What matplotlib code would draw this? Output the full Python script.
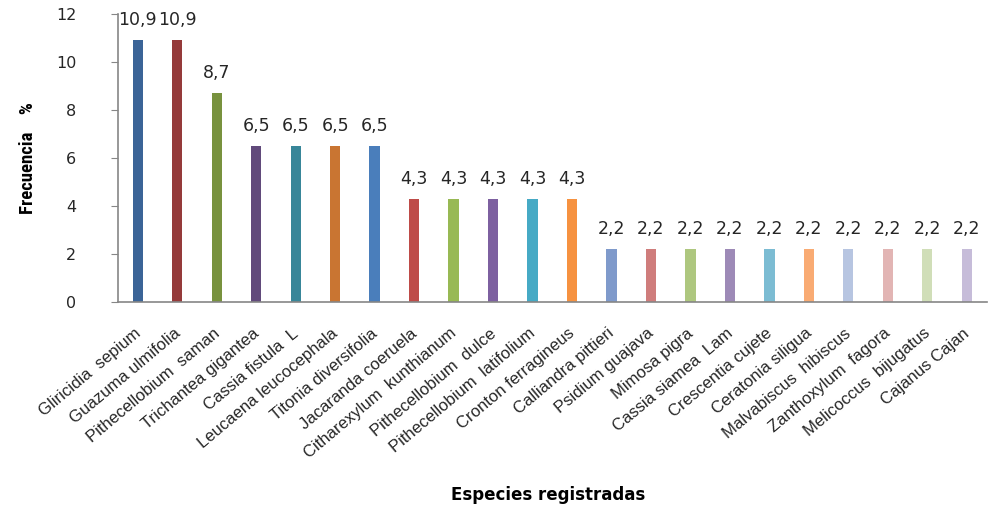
#! /usr/bin/env python3

import matplotlib
matplotlib.use('Agg')
import matplotlib.pyplot as plt
import matplotlib.transforms as mtransforms
import numpy as np

species = ['Gliricidia  sepium', 'Guazuma ulmifolia', 'Pithecellobium  saman',
           'Trichantea gigantea', 'Cassia fistula  L', 'Leucaena leucocephala',
           'Titonia diversifolia', 'Jacaranda coeruela', 'Citharexylum  kunthianum',
           'Pithecellobium  dulce', 'Pithecellobium  latifolium', 'Cronton ferragineus',
           'Calliandra pittieri', 'Psidium guajava', 'Mimosa pigra', 'Cassia siamea  Lam',
           'Crescentia cujete', 'Ceratonia siligua', 'Malvabiscus  hibiscus',
           'Zanthoxylum  fagora', 'Melicoccus  bijugatus', 'Cajanus Cajan']
frecuencia = [10.9, 10.9, 8.7, 6.5, 6.5, 6.5, 6.5, 4.3, 4.3, 4.3, 4.3, 4.3,
              2.2, 2.2, 2.2, 2.2, 2.2, 2.2, 2.2, 2.2, 2.2, 2.2]
colors = ['#3B6497', '#953A3A', '#78923E', '#614A7B', '#388699', '#C97532',
          '#4A7EBB', '#BE4B48', '#98B954', '#7D60A0', '#46AAC5', '#F69240',
          '#7F9ACB', '#CF7D7C', '#AEC77F', '#9D8AB7', '#7CBCD3', '#F9AB73',
          '#B7C5E1', '#E2B5B4', '#D0DEB8', '#C6BCD9']

fig = plt.figure(figsize=(9.89, 5.12), dpi=100)
ax = fig.add_axes([0.1193, 0.410, 0.8782, 0.5625])

x = np.arange(len(species))
ax.bar(x, frecuencia, width=0.26, color=colors)

# value labels with decimal comma
for xi, v in zip(x, frecuencia):
    ax.annotate(('%.1f' % v).replace('.', ','), (xi, v), xytext=(0, 8),
                textcoords='offset points', ha='center', va='bottom',
                fontsize=12.5, color='#262626', family='DejaVu Sans')

ax.set_xlim(-0.5, len(species) - 0.5)
ax.set_ylim(0, 12)
ax.set_yticks(range(0, 13, 2))
ax.set_xticks(x)
ax.set_xticklabels(species, rotation=40, ha='right', rotation_mode='anchor',
                   fontsize=12, family='Liberation Sans', color='#262626')
ax.tick_params(axis='x', length=0, pad=17)
ax.tick_params(axis='y', length=5, color='#868686', labelsize=11.5,
               labelcolor='#262626', pad=25)
for t in ax.get_yticklabels():
    t.set_family('DejaVu Sans')
shift = mtransforms.ScaledTranslation(-4 / 100, 0, fig.dpi_scale_trans)
for t in ax.get_xticklabels():
    t.set_transform(t.get_transform() + shift)

for side in ['top', 'right']:
    ax.spines[side].set_visible(False)
for side in ['left', 'bottom']:
    ax.spines[side].set_color('#868686')
    ax.spines[side].set_linewidth(1.2)

fig.text(0.028, 0.691, 'Frecuencia    %', rotation=90, ha='center', va='center',
         fontsize=13.5, fontweight='bold',
         family=['Liberation Sans Narrow', 'Roboto Condensed', 'Archivo Narrow', 'DejaVu Sans'])
fig.text(0.554, 0.033, 'Especies registradas', ha='center', va='center',
         fontsize=12, fontweight='bold', family='DejaVu Sans')

fig.savefig('out.png', dpi=100)
plt.close('all')
